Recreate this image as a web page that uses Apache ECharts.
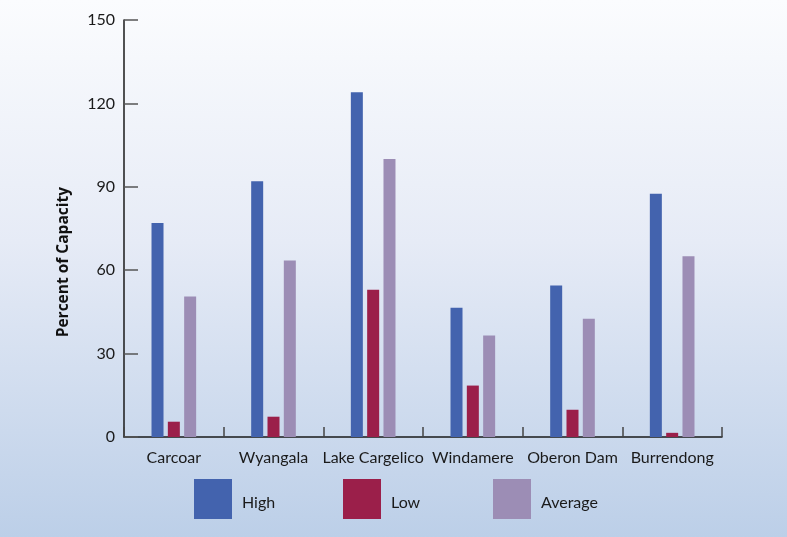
<!DOCTYPE html>
<html><head><meta charset="utf-8">
<script src="https://cdn.jsdelivr.net/npm/echarts@6/dist/echarts.min.js"></script>
<style>
html,body{margin:0;padding:0;}
#c{width:787px;height:537px;background:linear-gradient(to bottom,#fbfcfe 0%,#e6ebf6 45%,#bccfe8 100%);}
</style></head>
<body><div id="c"></div>
<script>
const categories = ['Carcoar','Wyangala','Lake Cargelico','Windamere','Oberon Dam','Burrendong'];
const highValues = [77, 92, 124, 46.5, 54.5, 87.5];
const lowValues = [5.5, 7.3, 53, 18.5, 9.8, 1.5];
const avgValues = [50.5, 63.5, 100, 36.5, 42.5, 65];
const yTicks = [0, 30, 60, 90, 120, 150];
const seriesNames = ['High','Low','Average'];
const colors = ['#4363ae','#9b1f4a','#9c8db5'];
const font = 'Lato, "Open Sans", sans-serif';

const chart = echarts.init(document.getElementById('c'));
const dataSets = [highValues, lowValues, avgValues];
const legendLefts = [194, 343, 493];
chart.setOption({
  animation: false,
  grid: {left: 124, right: 65, top: 20, bottom: 100},
  xAxis: {
    type: 'category', data: categories,
    axisLine: {lineStyle: {color: '#1a1a1a', width: 1.5}},
    axisTick: {show: true, inside: true, length: 10, lineStyle: {color: '#444', width: 1.5}},
    axisLabel: {color: '#1a1a1a', fontSize: 16, fontFamily: font, margin: 13, interval: 0}
  },
  yAxis: {
    type: 'value', min: yTicks[0], max: yTicks[yTicks.length-1], interval: 30,
    axisLine: {show: true, lineStyle: {color: '#1a1a1a', width: 1.5}},
    axisTick: {show: true, inside: true, length: 14, lineStyle: {color: '#555', width: 1.5}},
    splitLine: {show: false},
    axisLabel: {color: '#1a1a1a', fontSize: 16, fontFamily: font, margin: 9}
  },
  legend: seriesNames.map((n, i) => ({
    data: [n], left: legendLefts[i], top: 479, itemWidth: 38, itemHeight: 40,
    icon: 'rect', itemGap: 0, padding: 0,
    formatter: '{a|{name}}',
    textStyle: {fontSize: 16, fontFamily: font, color: '#1a1a1a',
      rich: {a: {fontSize: 16, fontFamily: font, color: '#1a1a1a', padding: [8, 0, 0, 5]}}}
  })),
  graphic: [{
    type: 'text', left: 56, top: 187, rotation: Math.PI/2,
    style: {text: 'Percent of Capacity', font: 'bold 15.5px "Open Sans", sans-serif', fill: '#111'}
  }],
  series: seriesNames.map((n, i) => ({
    name: n, type: 'bar', data: dataSets[i], barWidth: 12, barGap: '36%',
    itemStyle: {color: colors[i]}
  }))
});
</script></body></html>
